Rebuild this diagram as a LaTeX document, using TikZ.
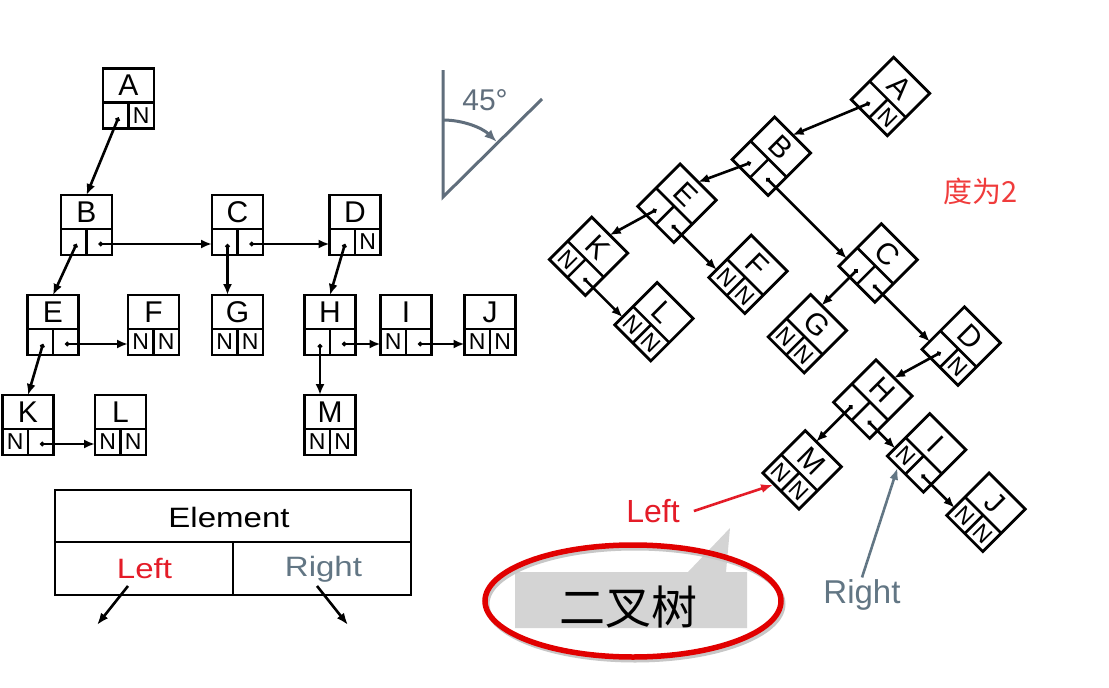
\documentclass[tikz,border=0pt]{standalone}
\usepackage{fontspec}
\setmainfont{Liberation Sans}
\newfontfamily\cjk{Noto Sans CJK SC}
\usetikzlibrary{arrows.meta,calc}
\definecolor{angc}{RGB}{96,110,124}
\definecolor{rgtc}{RGB}{98,118,132}
\definecolor{lftc}{RGB}{228,28,40}
\definecolor{degc}{RGB}{240,60,60}
\definecolor{ellc}{RGB}{225,0,0}
\definecolor{bubg}{RGB}{212,212,212}
\tikzset{
  tbox/.style={draw, line width=2.8pt, minimum width=51pt, minimum height=60pt, inner sep=0pt},
  cellline/.style={line width=2.6pt},
  letter/.style={font=\fontsize{30}{30}\selectfont, inner sep=0pt},
  nf/.style={font=\fontsize{23}{23}\selectfont, inner sep=0pt},
  ptr/.style={line width=2.6pt, {Circle[length=4.5pt]}-{Latex[length=11pt,width=9pt]}},
  angline/.style={draw=angc, line width=3pt},
  tabtxt/.style={font=\fontsize{28}{28}\selectfont, inner sep=0pt},
  callarrow/.style={line width=2.6pt, -{Latex[length=12pt,width=9pt]}},
}
% #1 prefix, #2 name, #3 x, #4 y (centre), #5 letter, #6 left cell, #7 right cell
\newcommand\tn[7]{%
  \node[tbox] (#1#2) at (#3,#4) {};
  \draw[cellline] (#3-25.5,#4+4) -- (#3+25.5,#4+4);
  \draw[cellline] (#3,#4+4) -- (#3,#4+30);
  \node[letter] (#1#2-t) at (#3,#4-13) {#5};
  \node[nf] (#1#2-ln) at (#3-12.75,#4+17) {#6};
  \node[nf] (#1#2-rn) at (#3+12.75,#4+17) {#7};
  \coordinate (#1#2-l) at (#3-10,#4+19);
  \coordinate (#1#2-r) at (#3+12,#4+19);
  \coordinate (#1#2-w) at (#3-25.5,#4+19);
  \coordinate (#1#2-n) at (#3,#4-30);
  \coordinate (#1#2-v) at (#3-10,#4-30);
  \coordinate (#1#2-b) at (#3-10,#4+31);
}
\newcommand\drawtree[1]{%
  \tn{#1}{A}{128.5}{98.5}{A}{}{N}
  \tn{#1}{B}{86.5}{225}{B}{}{}
  \tn{#1}{C}{237.5}{225}{C}{}{}
  \tn{#1}{D}{355}{225}{D}{}{N}
  \tn{#1}{E}{53}{325}{E}{}{}
  \tn{#1}{F}{153.5}{325}{F}{N}{N}
  \tn{#1}{G}{237.5}{325}{G}{N}{N}
  \tn{#1}{H}{330}{325}{H}{}{}
  \tn{#1}{I}{406}{325}{I}{N}{}
  \tn{#1}{J}{490}{325}{J}{N}{N}
  \tn{#1}{K}{28}{425}{K}{N}{}
  \tn{#1}{L}{120.5}{425}{L}{N}{N}
  \tn{#1}{M}{330}{425}{M}{N}{N}
  \draw[ptr] (#1A-l) -- (#1B-n);
  \draw[ptr] (#1B-l) -- (#1E-n);
  \draw[ptr] (#1B-r) -- (#1C-w);
  \draw[ptr] (#1C-l) -- (#1G-v);
  \draw[ptr] (#1C-r) -- (#1D-w);
  \draw[ptr] (#1D-l) -- (#1H-n);
  \draw[ptr] (#1E-l) -- (#1K-n);
  \draw[ptr] (#1E-r) -- (#1F-w);
  \draw[ptr] (#1K-r) -- (#1L-w);
  \draw[ptr] (#1H-l) -- (#1M-v);
  \draw[ptr] (#1H-r) -- (#1I-w);
  \draw[ptr] (#1I-r) -- (#1J-w);
}
\begin{document}
\begin{tikzpicture}[x=1pt,y=-1pt]
  \fill[white] (0,0) rectangle (1109,688);
  \useasboundingbox (0,0) rectangle (1109,688);

  % left tree
  \drawtree{P}

  % rotated tree
  \begin{scope}[shift={(890.5,96.5)},rotate=-45,shift={(-128.5,-98.5)},transform shape]
    \drawtree{R}
  \end{scope}

  % 45 degree figure
  \coordinate (Vt) at (443,70);
  \coordinate (V) at (443,197);
  \coordinate (Vd) at (542,99);
  \coordinate (Va) at (443,120);
  \draw[angline] (Vt) -- (V) -- (Vd);
  \draw[angline, -{Latex[length=12pt,width=10pt]}] (Va) arc[start angle=90, end angle=46, radius=77pt];
  \node[text=angc, font=\fontsize{30}{30}\selectfont, inner sep=0pt] (deg) at (485,100) {45°};

  % degree label
  \node[text=degc, font=\cjk\fontsize{29}{29}\selectfont, inner sep=0pt] (deg2) at (981,191) {度为2};

  % element table
  \node[draw, line width=2.8pt, minimum width=356pt, minimum height=52pt, inner sep=0pt] (elem) at (233,516) {};
  \node[draw, line width=2.8pt, minimum width=178pt, minimum height=53pt, inner sep=0pt] (lcell) at (144,568.5) {};
  \node[draw, line width=2.8pt, minimum width=178pt, minimum height=53pt, inner sep=0pt] (rcell) at (322,568.5) {};
  \node[tabtxt] (elt) at (229,517) {\scalebox{1.18}[1]{Element}};
  \node[tabtxt, text=lftc] (tlt) at (144.5,569) {\scalebox{1.18}[1]{Left}};
  \node[tabtxt, text=rgtc] (trt) at (323.5,569) {\scalebox{1.18}[1]{Right}};
  \coordinate (la) at (128,586);
  \coordinate (lb) at (97,625);
  \coordinate (ra) at (317,586);
  \coordinate (rb) at (348,625);
  \draw[callarrow] (la) -- (lb);
  \draw[callarrow] (ra) -- (rb);

  % callout bubble
  \fill[bubg] (515,572) -- (688,572) -- (730,528) -- (726,572) -- (747,572) -- (747,628) -- (515,628) -- cycle;
  \node[font=\cjk\fontsize{46}{46}\selectfont, inner sep=0pt] (bt) at (628,607) {二叉树};
  \draw[black!22, line width=5pt] (635,604) ellipse [x radius=148pt, y radius=56pt];
  \draw[ellc, line width=5.5pt] (633,601) ellipse [x radius=148pt, y radius=56pt];

  % Left / Right call-outs
  \node[text=lftc, font=\fontsize{32}{32}\selectfont, inner sep=0pt] (lft) at (653,511) {Left};
  \draw[callarrow, draw=lftc, fill=lftc] ([xshift=14pt]lft.east) -- (RM-b);
  \node[text=rgtc, font=\fontsize{33}{33}\selectfont, inner sep=2pt] (rgt) at (862,595) {Right};
  \draw[callarrow, draw=rgtc, fill=rgtc] (rgt.north) -- (RI-b);
\end{tikzpicture}
\end{document}
